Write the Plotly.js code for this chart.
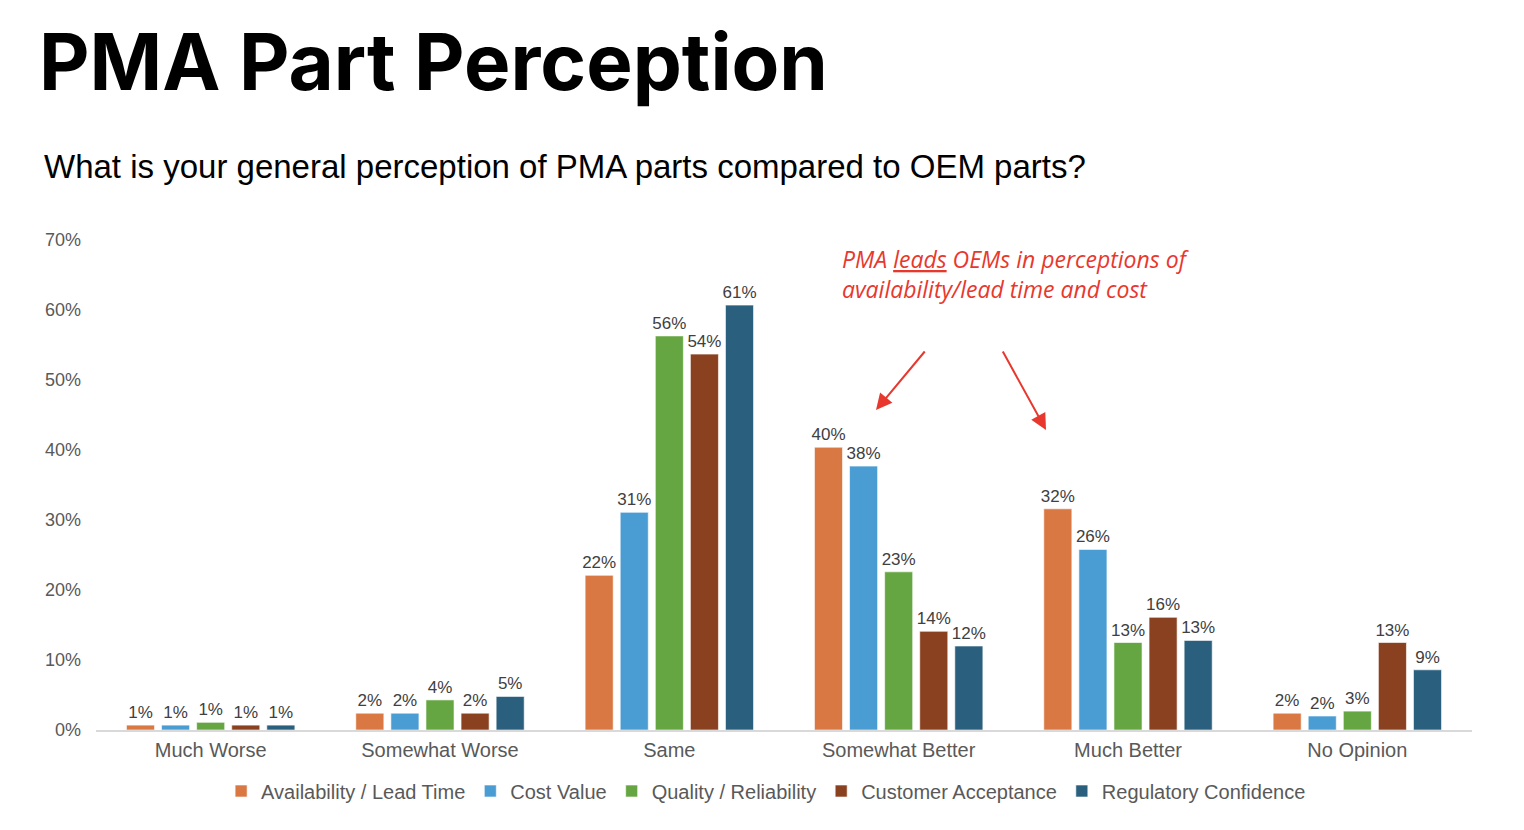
<!DOCTYPE html>
<html>
<head>
<meta charset="utf-8">
<script src="https://cdn.plot.ly/plotly-3.0.1.min.js"></script>
<style>
  html, body { margin: 0; padding: 0; background: #fff; }
  #chart { width: 1524px; height: 830px; }
</style>
</head>
<body>
<div id="chart"></div>
<script>
// 数据（百分比，从图上读取）
const categories = ['Much Worse', 'Somewhat Worse', 'Same', 'Somewhat Better', 'Much Better', 'No Opinion'];
const seriesNames = ['Availability / Lead Time', 'Cost Value', 'Quality / Reliability', 'Customer Acceptance', 'Regulatory Confidence'];
const availability = [0.7, 2.4, 22.1, 40.4, 31.6, 2.4];
const costValue = [0.7, 2.4, 31.1, 37.7, 25.8, 2.0];
const quality = [1.1, 4.3, 56.3, 22.6, 12.5, 2.7];
const customer = [0.7, 2.4, 53.7, 14.1, 16.1, 12.5];
const regulatory = [0.7, 4.8, 60.7, 12.0, 12.8, 8.6];
const seriesColors = ['#D97843', '#4A9DD3', '#66A642', '#8A4120', '#2A5F7D'];

const allSeries = [availability, costValue, quality, customer, regulatory];

// 画布尺寸与边距
const W = 1524, H = 830;
const M = { l: 96, r: 52, t: 240, b: 100 };
const plotW = W - M.l - M.r;
const plotH = H - M.t - M.b;
// 像素坐标 -> paper 坐标（仅用于注释定位）
const px = x => (x - M.l) / plotW;
const py = y => (H - M.b - y) / plotH;

const data = allSeries.map((vals, i) => ({
    type: 'bar',
    name: seriesNames[i],
    x: categories,
    y: vals,
    marker: {
        color: seriesColors[i],
        line: { color: 'rgba(255,255,255,0.6)', width: 1 }
    },
    texttemplate: '%{y:.0f}%',
    textposition: 'outside',
    constraintext: 'none',
    cliponaxis: false,
    textfont: { family: 'Liberation Sans, Arial, sans-serif', size: 17, color: '#404040' },
    hoverinfo: 'skip'
}));

const red = '#E8382D';

const layout = {
    width: W,
    height: H,
    margin: M,
    paper_bgcolor: '#ffffff',
    plot_bgcolor: '#ffffff',
    barmode: 'group',
    bargap: 0.235,
    bargroupgap: 0.2,
    showlegend: true,
    title: {
        text: 'PMA Part Perception',
        font: { family: 'Inter, Poppins, sans-serif', size: 78, color: '#000000', weight: 700 },
        x: 39 / W,
        xanchor: 'left',
        xref: 'container',
        y: 1 - 35 / H,
        yanchor: 'top',
        yref: 'container'
    },
    font: { family: 'Liberation Sans, Arial, sans-serif', size: 18, color: '#595959' },
    xaxis: {
        type: 'category',
        showgrid: false,
        showline: true,
        linecolor: '#D9D9D9',
        linewidth: 1.5,
        ticks: '',
        ticklabelstandoff: 1,
        tickfont: { size: 20, color: '#595959' },
        fixedrange: true
    },
    yaxis: {
        range: [0, 70],
        dtick: 10,
        ticksuffix: '%',
        showgrid: false,
        zeroline: false,
        showline: false,
        ticks: '',
        ticklabelstandoff: 14,
        tickfont: { size: 18, color: '#595959' },
        fixedrange: true
    },
    legend: {
        orientation: 'h',
        x: 0.487,
        xanchor: 'center',
        y: py(791),
        yanchor: 'middle',
        font: { size: 20, color: '#595959' },
        itemwidth: 30,
        tracegroupgap: 0
    },
    annotations: [
        {
            text: 'What is your general perception of PMA parts compared to OEM parts?',
            xref: 'paper', yref: 'paper',
            x: px(42), y: py(166),
            xanchor: 'left', yanchor: 'middle',
            showarrow: false,
            font: { family: 'Liberation Sans, Arial, sans-serif', size: 33, color: '#000000' }
        },
        {
            text: '<i>PMA <u>leads</u> OEMs in perceptions of<br>availability/lead time and cost</i>',
            xref: 'paper', yref: 'paper',
            x: px(840), y: py(241),
            xanchor: 'left', yanchor: 'top',
            align: 'left',
            showarrow: false,
            font: { family: 'Open Sans, Lato, sans-serif', size: 23, color: red }
        },
        {
            text: '',
            xref: 'paper', yref: 'paper',
            x: px(876), y: py(410),
            ax: 50, ay: -60,
            showarrow: true,
            arrowhead: 2,
            arrowsize: 1.6,
            arrowwidth: 2,
            arrowcolor: red
        },
        {
            text: '',
            xref: 'paper', yref: 'paper',
            x: px(1046), y: py(430),
            ax: -44, ay: -80,
            showarrow: true,
            arrowhead: 2,
            arrowsize: 1.6,
            arrowwidth: 2,
            arrowcolor: red
        }
    ]
};

Plotly.newPlot('chart', data, layout, { displayModeBar: false, staticPlot: true });
</script>
</body>
</html>
